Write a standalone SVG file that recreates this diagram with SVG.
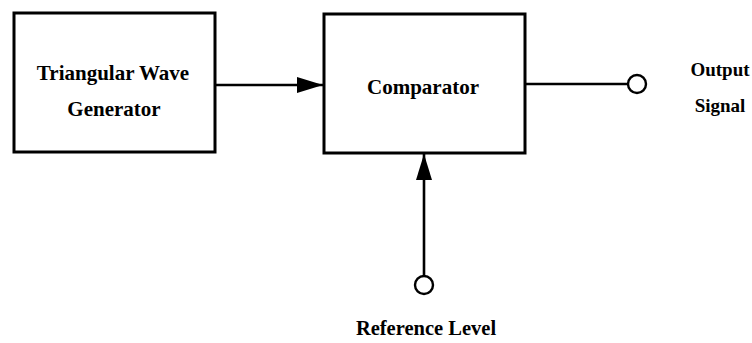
<svg xmlns="http://www.w3.org/2000/svg" width="752" height="343" viewBox="0 0 752 343">
  <style>
    .box { fill: #ffffff; stroke: #000000; stroke-width: 3; }
    .wire { fill: none; stroke: #000000; stroke-width: 2.6; }
    .term { fill: #ffffff; stroke: #000000; stroke-width: 2.4; }
    .label { font-family: "Liberation Serif", "Times New Roman", serif; font-weight: bold; font-size: 21px; fill: #000000; text-anchor: middle; }
    .side { font-size: 19px; }
    .ref { font-size: 20.5px; }
  </style>
  <defs>
    <marker id="arrow" viewBox="0 0 26 16" refX="26" refY="8" markerWidth="26" markerHeight="16" markerUnits="userSpaceOnUse" orient="auto">
      <path d="M0,0 L26,8 L0,16 Z" fill="#000000"/>
    </marker>
  </defs>

  <rect width="752" height="343" fill="#ffffff"/>

  <g id="connectors">
    <line class="wire" x1="216" y1="85" x2="323" y2="85" marker-end="url(#arrow)"/>
    <line class="wire" x1="525" y1="84" x2="628" y2="84"/>
    <line class="wire" x1="424" y1="276" x2="424" y2="154" marker-end="url(#arrow)"/>
  </g>

  <g id="triangular-wave-generator">
    <rect class="box" x="14" y="13" width="201" height="139"/>
    <text class="label" x="113" y="80">Triangular Wave</text>
    <text class="label" x="114" y="116">Generator</text>
  </g>

  <g id="comparator">
    <rect class="box" x="324" y="14" width="201" height="139"/>
    <text class="label" x="423" y="94">Comparator</text>
  </g>

  <g id="output-signal">
    <circle class="term" cx="637" cy="84" r="9"/>
    <text class="label side" x="720" y="76">Output</text>
    <text class="label side" x="720" y="112">Signal</text>
  </g>

  <g id="reference-level">
    <circle class="term" cx="424" cy="285" r="9"/>
    <text class="label ref" x="426" y="335">Reference Level</text>
  </g>
</svg>
